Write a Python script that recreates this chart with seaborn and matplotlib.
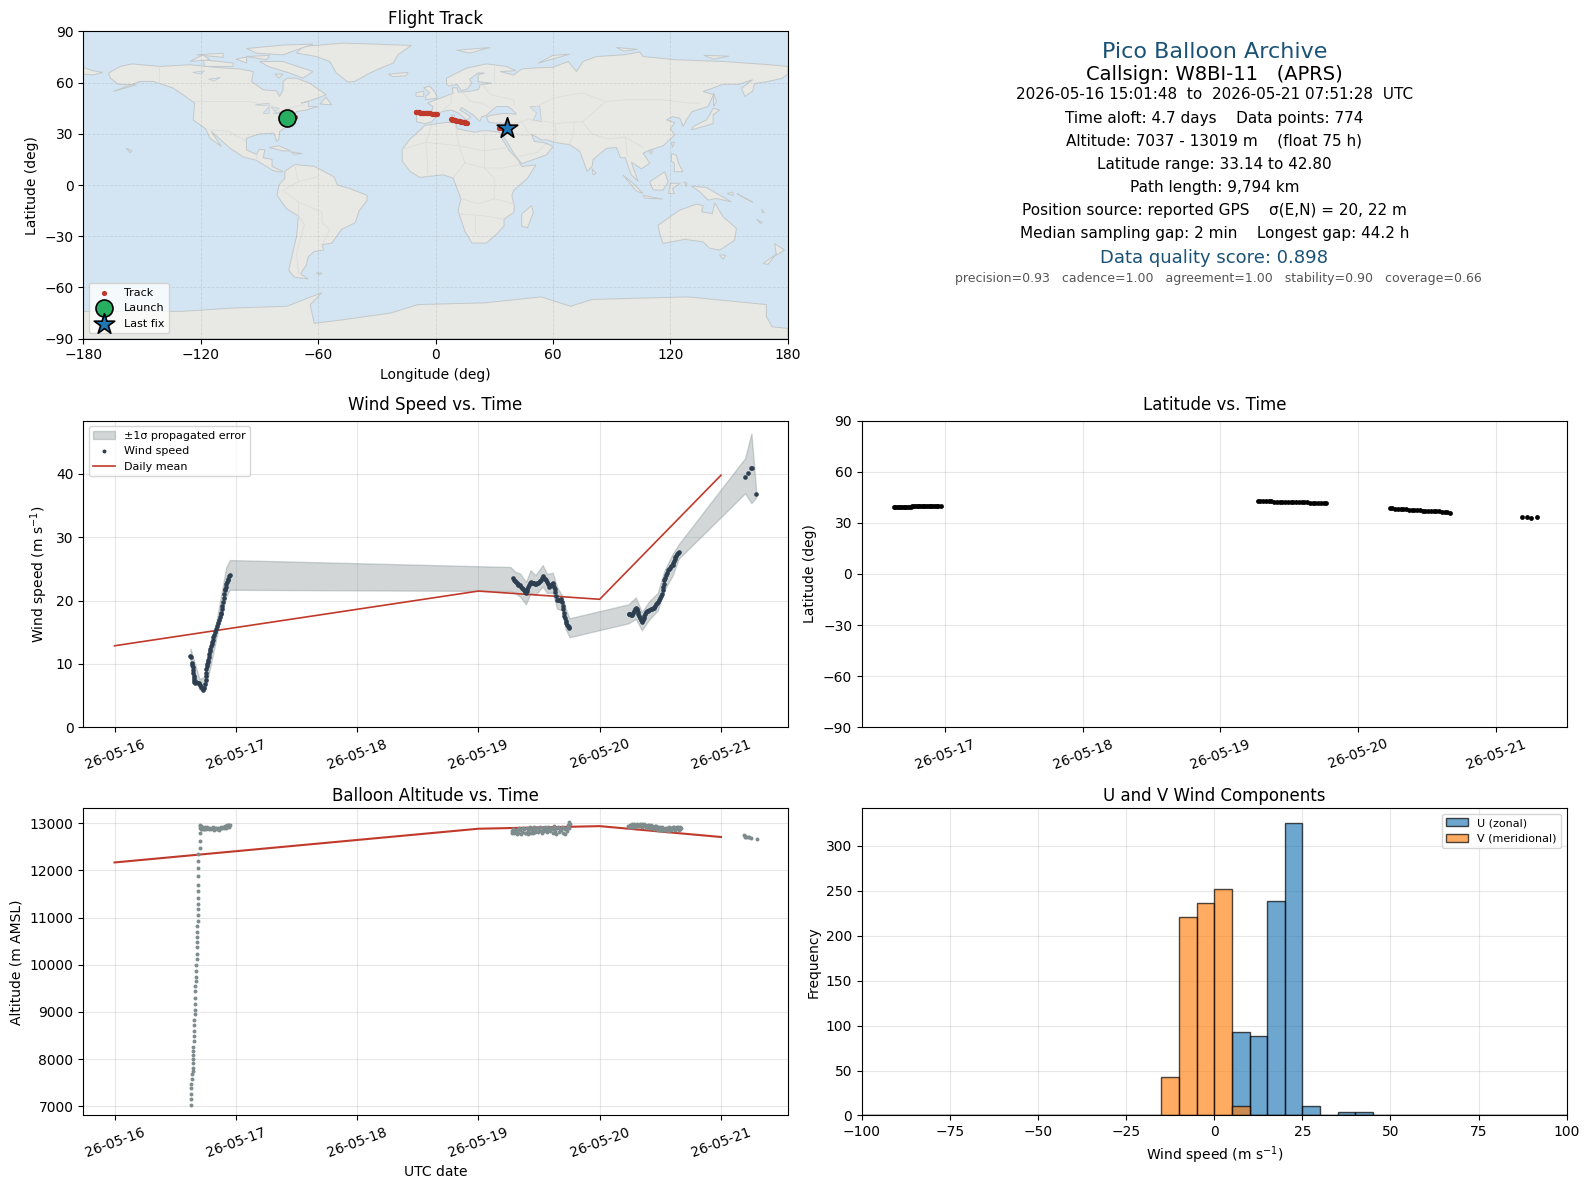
import numpy as np
import pandas as pd
import matplotlib
matplotlib.use('Agg')
import matplotlib.pyplot as plt
import matplotlib.dates as mdates
import seaborn as sns

# ======================
# DATA (days are decimal days of May 2026)
# ======================

wind_days = [16.626, 16.632, 16.637, 16.640, 16.643, 16.646, 16.648, 16.651, 16.653, 16.655, 16.657, 16.665, 16.675, 16.684,
             16.695, 16.705, 16.711, 16.72, 16.731, 16.74, 16.747, 16.750, 16.752, 16.755, 16.758, 16.761, 16.764, 16.767,
             16.77, 16.775, 16.78, 16.785, 16.79, 16.795, 16.80, 16.804, 16.808, 16.814, 16.82, 16.828, 16.835, 16.842,
             16.85, 16.859, 16.868, 16.874, 16.88, 16.885, 16.89, 16.895, 16.90, 16.905, 16.909, 16.914, 16.918, 16.922,
             16.926, 16.932, 16.938, 16.944, 16.95,
             19.282, 19.29, 19.30, 19.309, 19.318, 19.324, 19.33, 19.338, 19.345, 19.352, 19.36, 19.366, 19.373, 19.382, 19.392,
             19.397, 19.403, 19.408, 19.414, 19.425, 19.436, 19.445, 19.453, 19.462, 19.47, 19.478, 19.487, 19.495, 19.503,
             19.51, 19.517, 19.523, 19.53, 19.54, 19.548, 19.557, 19.566, 19.573, 19.58, 19.588, 19.597, 19.605, 19.613,
             19.619, 19.625, 19.63, 19.635, 19.642, 19.649, 19.658, 19.667, 19.676, 19.685, 19.69, 19.695, 19.70,
             19.704, 19.709, 19.714, 19.719, 19.724, 19.73, 19.737, 19.744, 19.751,
             20.238, 20.244, 20.25, 20.258, 20.265, 20.273, 20.282, 20.29, 20.298, 20.304, 20.31, 20.315, 20.32, 20.328, 20.335,
             20.342, 20.348, 20.355, 20.362, 20.369, 20.376, 20.384, 20.392, 20.40, 20.409, 20.42, 20.43, 20.44, 20.45, 20.458,
             20.465, 20.472, 20.478, 20.487, 20.495, 20.505, 20.514, 20.519, 20.523, 20.528, 20.533, 20.54, 20.547, 20.554,
             20.561, 20.57, 20.58, 20.59, 20.602, 20.608, 20.613, 20.619, 20.624, 20.631, 20.638, 20.645, 20.652,
             21.199, 21.224, 21.251, 21.26, 21.29]
wind_speed = [11.2, 11.0, 10.2, 9.8, 9.5, 9.0, 8.6, 8.1, 7.7, 7.4, 7.1, 7.0, 7.1, 6.95,
              7.0, 6.6, 6.3, 6.2, 5.9, 6.1, 6.8, 7.4, 8.0, 8.6, 9.2, 9.6, 10.0, 10.3,
              10.6, 11.1, 11.6, 12.0, 12.4, 12.8, 13.1, 13.4, 13.7, 14.2, 14.6, 15.1, 15.5, 16.0,
              16.4, 16.9, 17.4, 17.8, 18.1, 18.6, 19.2, 19.8, 20.4, 21.0, 21.6, 21.9, 22.2, 22.6,
              22.9, 23.2, 23.4, 23.8, 24.1,
              23.6, 23.3, 23.1, 22.9, 22.7, 22.6, 22.5, 22.45, 22.4, 22.2, 22.0, 21.8, 21.6, 21.4, 21.2,
              21.5, 21.8, 22.1, 22.4, 22.7, 22.9, 22.85, 22.8, 22.7, 22.6, 22.65, 22.7, 22.8, 22.9,
              23.1, 23.3, 23.5, 23.8, 23.6, 23.4, 23.2, 22.9, 22.6, 22.2, 22.3, 22.5, 22.65, 22.8,
              22.5, 22.1, 21.8, 21.4, 20.7, 20.05, 20.07, 20.1, 20.15, 20.2, 19.7, 19.2, 18.6,
              18.0, 17.6, 17.2, 16.8, 16.4, 16.2, 16.0, 15.8, 15.6,
              17.95, 17.85, 17.8, 17.75, 17.7, 18.0, 18.3, 18.6, 18.9, 18.7, 18.5, 18.2, 17.95, 17.6, 17.2,
              16.9, 16.6, 16.9, 17.2, 17.6, 17.95, 18.15, 18.3, 18.4, 18.5, 18.6, 18.7, 18.8, 18.9, 19.15,
              19.4, 19.6, 19.8, 20.1, 20.4, 20.75, 21.1, 21.6, 22.1, 22.6, 23.2, 23.6, 24.0, 24.4,
              24.8, 25.0, 25.2, 25.4, 25.6, 25.9, 26.2, 26.5, 26.9, 27.1, 27.3, 27.5, 27.6,
              39.5, 40.2, 40.95, 40.95, 36.85]

band_days = [16.626, 16.70, 16.75, 16.85, 16.92, 16.95, 19.265, 19.30, 19.345, 19.392, 19.43, 19.47, 19.53, 19.566,
             19.613, 19.649, 19.69, 19.72, 19.751, 20.238, 20.298, 20.348, 20.409, 20.478, 20.533, 20.602, 20.652,
             21.199, 21.251, 21.29]
band_low = [10.2, 5.9, 6.0, 15.0, 20.6, 21.7, 21.5, 21.2, 20.6, 19.4, 21.2, 20.9, 22.2, 21.2,
            21.2, 18.7, 18.5, 15.5, 14.2, 16.4, 17.1, 15.3, 17.0, 18.4, 21.6, 24.0, 26.6,
            36.95, 35.4, 36.3]
band_high = [12.4, 7.6, 8.0, 17.8, 25.2, 26.4, 25.3, 24.6, 24.25, 22.9, 24.8, 24.0, 25.6, 24.2,
             24.4, 22.1, 20.8, 18.7, 17.2, 19.4, 20.5, 18.2, 19.9, 21.2, 24.7, 27.4, 28.9,
             42.5, 46.4, 37.4]

mean_days = [16, 19, 20, 21]
wind_daily_mean = [12.85, 21.5, 20.2, 39.8]
alt_daily_mean = [12170, 12885, 12940, 12710]

ascent_days = [16.628, 16.631, 16.634, 16.634, 16.634, 16.637, 16.637, 16.644, 16.644, 16.644, 16.644, 16.647, 16.650, 16.650,
               16.653, 16.653, 16.653, 16.657, 16.657, 16.663, 16.663, 16.663, 16.663, 16.663, 16.666, 16.669, 16.669, 16.669,
               16.669, 16.676, 16.676, 16.679, 16.679, 16.679, 16.679, 16.679, 16.685, 16.685, 16.685, 16.685, 16.685, 16.692,
               16.692, 16.692, 16.692, 16.692, 16.692, 16.701, 16.701, 16.701, 16.701]
ascent_alt = [7037, 7165, 7271, 7378, 7463, 7576, 7675, 7746, 7817, 7909, 7994, 8087, 8172, 8264,
              8384, 8491, 8597, 8725, 8831, 8952, 9044, 9171, 9292, 9434, 9540, 9646, 9739, 9859,
              9987, 10121, 10235, 10370, 10483, 10582, 10689, 10816, 10937, 11064, 11192, 11298, 11419, 11575,
              11702, 11873, 12043, 12199, 12355, 12482, 12624, 12801, 12943]

float1_days = [16.705, 16.708, 16.712, 16.716, 16.72, 16.725, 16.73, 16.735, 16.74, 16.748, 16.755, 16.763, 16.772, 16.78, 16.788,
               16.796, 16.804, 16.812, 16.82, 16.828, 16.836, 16.843, 16.85, 16.856, 16.862, 16.868, 16.875, 16.88, 16.884, 16.892,
               16.90, 16.908, 16.917, 16.921, 16.925, 16.929, 16.933, 16.937, 16.94, 16.945, 16.949]
float1_alt = [12960, 12900, 12940, 12880, 12920, 12870, 12910, 12885, 12887, 12925, 12880, 12915, 12900, 12870, 12910,
              12885, 12890, 12915, 12860, 12905, 12895, 12870, 12880, 12910, 12860, 12900, 12890, 12915, 12890, 12925,
              12900, 12935, 12905, 12945, 12925, 12955, 12940, 12965, 12930, 12970, 12955]
float2_days = [19.276, 19.28, 19.287, 19.295, 19.302, 19.31, 19.318, 19.325, 19.33, 19.337, 19.345, 19.352, 19.36, 19.367, 19.375, 19.382,
               19.39, 19.397, 19.405, 19.412, 19.42, 19.425, 19.43, 19.437, 19.445, 19.452, 19.46, 19.465, 19.47, 19.477, 19.485, 19.492,
               19.50, 19.507, 19.515, 19.522, 19.53, 19.537, 19.545, 19.552, 19.56, 19.567, 19.575, 19.582, 19.59, 19.597, 19.605, 19.612,
               19.62, 19.627, 19.635, 19.642, 19.65, 19.657, 19.665, 19.672, 19.68, 19.687, 19.695, 19.702, 19.71, 19.717, 19.725, 19.732,
               19.74, 19.745, 19.75, 19.758]
float2_alt = [12785, 12830, 12870, 12800, 12860, 12840, 12780, 12880, 12800, 12890, 12850, 12780, 12810, 12900, 12870, 12790,
              12790, 12890, 12840, 12770, 12880, 12920, 12800, 12890, 12850, 12790, 12930, 12880, 12820, 12910, 12900, 12810,
              12860, 12930, 12830, 12790, 12910, 12850, 12840, 12920, 12880, 12810, 12920, 12850, 12830, 12910, 12870, 12800,
              12900, 12950, 12840, 12780, 12890, 12930, 12810, 12870, 12860, 12920, 12800, 12890, 12870, 12770, 12910, 12840,
              12960, 12900, 13019, 12990]
float3_days = [20.233, 20.24, 20.25, 20.255, 20.265, 20.27, 20.28, 20.285, 20.30, 20.305, 20.315, 20.32, 20.33, 20.335, 20.345, 20.35,
               20.36, 20.365, 20.375, 20.38, 20.39, 20.395, 20.405, 20.41, 20.42, 20.425, 20.435, 20.44, 20.45, 20.455, 20.465, 20.47,
               20.48, 20.485, 20.495, 20.50, 20.51, 20.515, 20.525, 20.53, 20.54, 20.545, 20.555, 20.56, 20.57, 20.575, 20.585, 20.59,
               20.60, 20.605, 20.615, 20.62, 20.63, 20.635, 20.645, 20.65, 20.66, 20.665, 20.672]
float3_alt = [12950, 12925, 12965, 12920, 12930, 12975, 12975, 12930, 12940, 12985, 12970, 12935, 12935, 12980, 12975, 12925,
              12945, 12985, 12965, 12925, 12930, 12970, 12960, 12910, 12900, 12955, 12950, 12890, 12880, 12940, 12940, 12875,
              12860, 12925, 12920, 12855, 12860, 12915, 12905, 12850, 12850, 12905, 12900, 12845, 12860, 12915, 12910, 12855,
              12870, 12925, 12920, 12865, 12880, 12925, 12915, 12865, 12880, 12920, 12895]
float4_days = [21.19, 21.195, 21.20, 21.21, 21.22, 21.235, 21.25, 21.30]
float4_alt = [12745, 12715, 12730, 12710, 12705, 12705, 12695, 12675]

track_days = [16.626, 16.638, 16.65, 16.663, 16.675, 16.688, 16.70, 16.712, 16.725, 16.738, 16.75, 16.763, 16.775, 16.788, 16.80,
              16.812, 16.825, 16.838, 16.85, 16.863, 16.875, 16.888, 16.90, 16.912, 16.925, 16.938, 16.95, 16.97,
              19.27, 19.29, 19.31, 19.33, 19.35, 19.37, 19.39, 19.41, 19.43, 19.45, 19.47, 19.49, 19.51, 19.53, 19.55,
              19.57, 19.59, 19.61, 19.63, 19.65, 19.67, 19.69, 19.71, 19.73, 19.75, 19.77,
              20.23, 20.25, 20.27, 20.29, 20.31, 20.33, 20.35, 20.37, 20.39, 20.41, 20.43, 20.45, 20.47, 20.49, 20.51,
              20.53, 20.55, 20.57, 20.59, 20.61, 20.63, 20.65, 20.67,
              21.19, 21.225, 21.26, 21.30]
track_lat = [39.5, 39.5, 39.5, 39.5, 39.5, 39.6, 39.6, 39.6, 39.6, 39.6, 39.6, 39.8, 39.9, 40.0, 40.0,
             40.1, 40.1, 40.1, 40.1, 40.1, 40.1, 40.1, 40.1, 40.1, 40.1, 40.0, 40.0, 40.0,
             42.8, 42.8, 42.7, 42.7, 42.6, 42.6, 42.5, 42.5, 42.5, 42.5, 42.4, 42.4, 42.4, 42.3, 42.3,
             42.3, 42.2, 42.2, 42.1, 41.9, 41.8, 41.8, 41.7, 41.7, 41.6, 41.6,
             38.7, 38.5, 38.4, 38.3, 38.2, 38.1, 38.0, 37.8, 37.7, 37.6, 37.5, 37.4, 37.3, 37.2, 37.1,
             37.1, 37.0, 36.9, 36.8, 36.7, 36.6, 36.3, 36.1,
             33.3, 33.2, 33.14, 33.2]
track_lon = [-75.5, -75.4, -75.3, -75.2, -75.0, -74.9, -74.8, -74.7, -74.5, -74.4, -74.2, -74.1, -74.0, -73.8, -73.7,
             -73.6, -73.5, -73.3, -73.2, -73.1, -73.0, -72.8, -72.7, -72.5, -72.4, -72.3, -72.2, -72.0,
             -10.2, -9.8, -9.4, -9.0, -8.6, -8.2, -7.8, -7.4, -7.0, -6.6, -6.2, -5.8, -5.4, -5.0, -4.6,
             -4.1, -3.6, -3.1, -2.6, -2.0, -1.4, -0.9, -0.4, 0.0, 0.3, 0.6,
             7.8, 8.2, 8.6, 9.0, 9.4, 9.8, 10.2, 10.6, 11.0, 11.4, 11.8, 12.2, 12.5, 12.9, 13.2,
             13.6, 13.9, 14.3, 14.6, 14.9, 15.2, 15.7, 16.2,
             32.5, 33.5, 34.5, 35.5]
launch_lon, launch_lat = -75.9, 39.0
last_lon, last_lat = 36.4, 33.2

hist_edges = list(range(-100, 105, 5))
u_bins = [5, 10, 15, 20, 25, 35, 40]
u_counts = [93, 88, 239, 325, 11, 4, 4]
v_bins = [-15, -10, -5, 0, 5]
v_counts = [43, 221, 237, 252, 10]

# land outlines, lon/lat
north_america = [(-167, 65.6), (-161, 69.5), (-155, 71), (-141, 69.5), (-125.5, 70.5), (-112, 68.9), (-100, 68), (-93, 66.5),
                 (-94, 60.7), (-88, 55.8), (-81.3, 55.2), (-79.6, 51.9), (-77.9, 55.8), (-77.9, 60.7), (-75.8, 62.6), (-71, 62.6),
                 (-64.3, 59.7), (-55.8, 52.9), (-62.6, 50), (-68.5, 48), (-65, 49), (-65, 46), (-60, 46), (-66, 44), (-71, 43),
                 (-72.8, 39), (-76, 34.3), (-79.6, 31.4), (-80, 27), (-81, 25.5), (-82.6, 30.4), (-89.8, 30), (-96.6, 27.5),
                 (-96.6, 20.6), (-91.5, 18), (-90, 21), (-87.2, 20.6), (-88, 16), (-83.5, 15), (-83.5, 11), (-80, 9), (-77.9, 8),
                 (-79, 7.5), (-83, 8.5), (-91.5, 14.5), (-98.3, 16.5), (-105, 21.6), (-114.5, 31.4), (-109.4, 22.6), (-115.3, 27.5),
                 (-117.5, 33), (-123.8, 38.2), (-123, 48), (-129, 52.9), (-134, 56.8), (-144, 60.7), (-151, 60.7), (-164.7, 54.8),
                 (-152.8, 58.7), (-162, 59), (-166, 62.6)]
south_america = [(-77, 8), (-72, 12), (-62, 11), (-52, 5), (-50, 0), (-44, -2), (-35, -6), (-35, -9), (-39, -15), (-41, -22),
                 (-48, -26), (-53, -34), (-58, -35), (-57, -38), (-62, -39), (-65, -42), (-66, -47), (-69, -52), (-65, -55),
                 (-72, -54), (-75, -50), (-73, -40), (-71, -30), (-70, -18), (-76, -14), (-81, -6), (-80, 0), (-77, 4)]
africa = [(-5.4, 35), (4, 36.5), (10, 37), (11, 33), (15, 32), (20, 31), (25, 32), (32.9, 31), (33.5, 28), (38, 19.7), (42.2, 14.8),
          (44, 10.9), (51.3, 11.8), (47, 4), (40, -3), (39, -6), (40.3, -12.7), (40, -16), (35, -20), (35, -24), (31, -29),
          (26, -34), (18.6, -34), (15, -27), (11.5, -15), (13, -8), (11, -2), (9, 4), (4, 6), (-4, 5), (-8, 4.5), (-13, 8),
          (-17, 14), (-17, 21), (-13, 27), (-9, 31)]
eurasia = [(-9.7, 37), (-9.7, 43.1), (-2, 43.3), (-1.2, 46), (-4, 48), (-1, 49.5), (3.9, 51.5), (9, 53.9), (8.5, 57), (11, 57),
           (11.6, 54.5), (16.7, 54.8), (22, 56), (22.7, 58.7), (28.6, 59.7), (21.8, 60.5), (21.8, 64.6), (25, 65.6), (22, 65.8),
           (17.5, 62), (18.5, 59.5), (16, 56), (13, 55.5), (11, 59), (7, 58), (5.6, 59), (5.6, 62.6), (15.8, 68.5), (26, 71),
           (36.3, 69.5), (41, 67), (33, 66.5), (40, 64.5), (44, 68), (51.6, 68.7), (60, 69), (67.8, 72.4), (72, 66.5), (75.4, 72.4),
           (82.2, 75.3), (95.8, 76.3), (104.3, 77.9), (106, 75.3), (123, 73.4), (147, 72.4), (170.7, 70.5), (180, 69.5), (180, 65),
           (177, 62.5), (169, 60.5), (163, 59.5), (162, 55), (158, 51.9), (156.3, 56.8), (162, 61.7), (155, 59), (146.9, 59),
           (136.7, 54.8), (142, 53), (139.2, 46), (131, 43), (128.2, 38.2), (126.5, 34.3), (124.8, 39.2), (121, 40), (118, 38.2),
           (122.2, 36.5), (120, 33), (122.2, 29.4), (116.3, 23), (109.5, 20.6), (106, 18.7), (109.5, 12.8), (105.2, 9.5), (100, 13.5),
           (103.5, 2.1), (100, 6), (98.4, 10.9), (97, 16), (94.5, 16), (92.4, 22), (87.3, 21.5), (80.5, 15), (80, 11), (77.5, 8),
           (73.7, 19.7), (72, 21), (68.6, 23.6), (61, 25), (57, 26.5), (54, 26.5), (49, 29.8), (50.5, 25.5), (55, 25), (57.5, 24),
           (60, 22.6), (56.7, 17.7), (44, 12.5), (40.5, 17.7), (34.8, 28.4), (35, 33), (36, 36.3), (30, 36.3), (27, 37), (26, 40),
           (29, 41), (35, 42), (41.4, 41.5), (38.8, 44.5), (37, 46), (31.2, 46), (28, 43), (26, 40.8), (23.5, 40), (22.7, 37.2),
           (19.3, 41), (13.3, 45.5), (12.5, 44), (18, 40), (16, 38), (12, 42), (8, 44), (3, 43), (0, 39.5), (-2, 37), (-5.4, 36)]
antarctica = [(-180, -74), (-130, -74), (-103, -72), (-76, -71), (-58, -63), (-64, -70), (-62, -81), (-48, -79), (-23, -75),
              (-9, -70), (25, -69), (54, -65.5), (69, -71), (80, -67), (129, -65.5), (169, -70), (169, -77), (172, -83),
              (180, -84), (180, -90), (-180, -90)]
chukotka = [(-180, 69), (-175, 67), (-170, 66), (-175, 64.5), (-180, 65)]
greenland = [(-71, 77.3), (-67.7, 81.2), (-47, 83.2), (-12.4, 81.8), (-19.2, 76.3), (-21.7, 71.4), (-26, 69.5), (-33.6, 65.6),
             (-41.3, 60.7), (-44.7, 60.3), (-50.6, 65.6), (-54, 72.4), (-60.9, 75.3)]
australia = [(113.7, -23.5), (124.7, -14.7), (133.2, -11.2), (136.7, -12), (136, -15.7), (141.4, -16.7), (142.6, -10.4), (146.9, -18.6),
             (153.7, -25.4), (152.8, -32.3), (145.2, -38.1), (140, -37), (136.7, -33.3), (127.3, -31.8), (116.2, -34.2), (114.5, -28.4)]
islands = [
    [(-89.8, 72.4), (-78, 72.4), (-62.6, 66.5), (-67.7, 62.6), (-74.5, 65.6), (-85.5, 69.5)],
    [(-118.7, 73.4), (-103.4, 71.5), (-103.4, 69.5), (-118, 69.5)],
    [(-96.6, 80), (-78, 82), (-62.6, 82.6), (-78, 76.3), (-91.5, 77.3)],
    [(-125.5, 72.4), (-118.7, 76.3), (-115.3, 73.4)],
    [(-96.6, 75.3), (-84.7, 76), (-86.4, 73.4)],
    [(-122, 76.3), (-108.5, 77.3), (-108.5, 74.8)],
    [(-102, 73.8), (-96.5, 75), (-96.5, 71.5)],
    [(-82, 65), (-78, 65), (-80, 62.5)],
    [(-59, 47.5), (-53, 47), (-56, 51.5)],
    [(-85, 22), (-80, 23), (-74, 20), (-78, 20)],
    [(-74, 19.5), (-68, 18.5), (-72, 18)],
    [(-158, 21.5), (-155, 20), (-156, 19)],
    [(-24, 65), (-14, 66), (-15, 64), (-22, 63.5)],
    [(-5, 50), (1, 51), (0, 54), (-3, 58), (-6, 57), (-3, 54), (-5, 52)],
    [(-10, 52), (-6, 52), (-6, 55), (-10, 54)],
    [(10.7, 79), (27.8, 80.6), (17.5, 77.3)],
    [(52.4, 71.4), (60, 76), (68.6, 76.7), (58.4, 73.4)],
    [(92.4, 80.6), (103, 79.5), (96, 78.5)],
    [(137, 76), (150, 75.5), (142, 73.8)],
    [(12.5, 38), (15.5, 38), (15, 36.7)],
    [(8.3, 41), (9.7, 41), (9.5, 39), (8.5, 39)],
    [(49, -12), (50, -16), (47, -25), (44, -24), (44, -17)],
    [(80, 9.5), (82, 7), (80.5, 6)],
    [(130.7, 32.4), (136, 34), (141.8, 36), (141.8, 41.2), (145.2, 44), (141.8, 45), (140, 41), (138.4, 38.2), (131.6, 34.3)],
    [(142, 54), (143.5, 49), (142, 46)],
    [(120.5, 25), (122, 25), (121, 22)],
    [(109, 20), (111, 20), (110, 18)],
    [(120.5, 18.5), (123, 17.5), (124, 13), (126.4, 7.8), (122, 7.8), (122, 12.7), (120.5, 14)],
    [(95.8, 5.8), (100.9, 1), (106, -4.9), (102.6, -3.5)],
    [(109.4, 1.9), (117.1, 7.8), (118.8, 1.9), (116.2, -3), (111.1, -2.8)],
    [(106, -6), (116, -8.2), (107, -7.6)],
    [(120, 1), (125, 1), (121, -2), (122, -5), (119, -5)],
    [(127, 2), (128.5, 1), (128, -1)],
    [(130.7, -0.6), (138.3, -1.4), (151.1, -9.8), (143.5, -7.9), (139.2, -8.8), (135, -4)],
    [(149, -5), (152, -4), (152, -6)],
    [(154, -5), (157, -7), (162, -10), (158, -7.5)],
    [(166.5, -14), (168, -16), (167, -16)],
    [(164, -20), (167, -22), (166, -22.5)],
    [(145, -41), (148.2, -41), (147, -43.5)],
    [(173.2, -34.2), (178.3, -38.1), (174.1, -41)],
    [(174, -40.5), (167.3, -46), (169.8, -46.5)],
    [(-61, -51.5), (-58, -51.5), (-59, -52.5)],
]
lakes = [
    [(48.2, 46), (53.3, 46), (54.1, 37.2), (49.9, 38.2), (51.6, 42.1)],
    [(-92, 47), (-85, 48), (-85, 46.5)],
    [(-88, 42), (-85, 46), (-85, 42)],
    [(-84, 46), (-80, 45), (-82, 43)],
    [(-83, 42), (-79, 43), (-80, 42)],
    [(-124, 66), (-118, 67), (-120, 65)],
    [(-116, 62), (-110, 63), (-113, 61)],
]
borders = [
    [(-141, 69.5), (-141, 60)],
    [(-123, 49), (-95, 49), (-83, 46), (-79, 43), (-75, 45), (-67, 47)],
    [(-117, 32.5), (-106, 31.5), (-97, 26)],
    [(-92, 14), (-91, 18)],
    [(-72, 12), (-70, 2), (-78, -3), (-70, -10), (-70, -18)],
    [(-60, 5), (-70, 2)],
    [(-70, -10), (-58, -16), (-58, -22), (-54, -26), (-58, -35)],
    [(-70, -18), (-67, -23), (-71, -40), (-70, -52)],
    [(-17, 21), (-5, 25), (12, 23), (25, 20), (37, 22)],
    [(-2, 35), (-5, 25), (-4, 12), (-4, 5)],
    [(10, 37), (12, 23), (15, 13), (9, 4)],
    [(25, 32), (25, 10), (30, 4), (30, -8), (40, -11)],
    [(15, 13), (25, 10), (34, 10), (43, 12)],
    [(13, -8), (22, -11), (30, -8)],
    [(12, -17), (25, -18), (35, -20)],
    [(20, -28), (20, -18)],
    [(-2, 43), (3, 43), (8, 48), (8, 54)],
    [(14, 54), (18, 49), (24, 48), (28, 45)],
    [(24, 59), (28, 53), (40, 50), (40, 47)],
    [(30, 60), (30, 69)],
    [(50, 45), (60, 51), (75, 54), (87, 49), (98, 50), (115, 50), (130, 48), (135, 48)],
    [(53, 38), (61, 36), (71, 37), (75, 37), (80, 42), (87, 49)],
    [(36, 36), (44, 37), (48, 30)],
    [(44, 37), (48, 39), (50, 37)],
    [(61, 36), (61, 25)],
    [(71, 37), (70, 28), (68, 24)],
    [(75, 37), (80, 30), (88, 27), (97, 28), (98, 17)],
    [(97, 28), (106, 22)],
    [(36, 32), (44, 29), (48, 29)],
    [(43, 17), (52, 19), (56, 24)],
]

info_lines = [
    ('Pico Balloon Archive', 51, 16, '#1a5276', 0),
    ('Callsign: W8BI-11   (APRS)', 73, 14, 'black', 0),
    ('2026-05-16 15:01:48  to  2026-05-21 07:51:28  UTC', 93.5, 11, 'black', 0),
    ('Time aloft: 4.7 days    Data points: 774', 117, 11, 'black', 0),
    ('Altitude: 7037 - 13019 m    (float 75 h)', 139.5, 11, 'black', 0),
    ('Latitude range: 33.14 to 42.80', 162, 11, 'black', 0),
    ('Path length: 9,794 km', 185, 11, 'black', 0),
    ('Position source: reported GPS    σ(E,N) = 20, 22 m', 207.5, 11, 'black', 0),
    ('Median sampling gap: 2 min    Longest gap: 44.2 h', 230.5, 11, 'black', 0),
    ('Data quality score: 0.898', 254.5, 13, '#1a5276', 0),
    ('precision=0.93   cadence=1.00   agreement=1.00   stability=0.90   coverage=0.66', 274.5, 9, '#555555', 4),
]

# =====================
# HELPERS
# =====================

FIG_W, FIG_H = 1568.0, 1172.5
RED = '#c0392b'
DARK = '#2c3e50'
GREY = '#7f8c8d'
OCEAN = '#d3e5f2'
LAND = '#e8e8e4'


def to_dates(days):
    return pd.Timestamp('2026-05-01') + pd.to_timedelta(np.asarray(days, dtype=float) - 1, unit='D')


def make_axes(fig, left, right, top, bottom):
    """Axes from picture pixel edges"""
    return fig.add_axes([left / FIG_W, 1 - bottom / FIG_H, (right - left) / FIG_W, (bottom - top) / FIG_H])


def date_axis(ax, xlim):
    ax.set_xlim(to_dates([xlim[0]])[0], to_dates([xlim[1]])[0])
    ax.xaxis.set_major_locator(mdates.DayLocator())
    ax.xaxis.set_major_formatter(mdates.DateFormatter('%y-%m-%d'))
    ax.tick_params(axis='x', labelrotation=20)
    ax.grid(True, alpha=0.3)
    ax.set_axisbelow(True)
    ax.set_xlabel('')


# =====================
# PLOTTING
# =====================

fig = plt.figure(figsize=(15.9, 11.89), dpi=100)

# flight track map
ax = make_axes(fig, 82, 777, 31, 334)
ax.set_facecolor(OCEAN)
outlines = [north_america, south_america, africa, eurasia, antarctica, chukotka, greenland, australia] + islands
for poly in outlines:
    xs, ys = zip(*poly)
    ax.fill(xs, ys, facecolor=LAND, edgecolor='#c3c8ca', linewidth=0.7, zorder=1)
for poly in lakes:
    xs, ys = zip(*poly)
    ax.fill(xs, ys, facecolor=OCEAN, edgecolor='#c3c8ca', linewidth=0.5, zorder=1.1)
for line in borders:
    xs, ys = zip(*line)
    ax.plot(xs, ys, color='#dcdedc', linewidth=0.6, zorder=1.2)
sns.scatterplot(x=track_lon, y=track_lat, ax=ax, s=14, color=RED, linewidth=0, label='Track', zorder=3)
ax.scatter([launch_lon], [launch_lat], s=150, color='#27ae60', edgecolor='black', linewidth=1.2, label='Launch', zorder=4)
ax.scatter([last_lon], [last_lat], s=240, marker='*', color='#1f77b4', edgecolor='black', linewidth=1.2, label='Last fix', zorder=4)
ax.set_xlim(-180, 180)
ax.set_ylim(-90, 90)
ax.set_xticks(range(-180, 181, 60))
ax.set_yticks(range(-90, 91, 30))
ax.grid(True, color='gray', alpha=0.2, linewidth=0.6, linestyle='--', zorder=2)
ax.set_xlabel('Longitude (deg)')
ax.set_ylabel('Latitude (deg)')
ax.set_title('Flight Track', fontsize=12, pad=5)
ax.legend(loc='lower left', fontsize=8)

# text panel
ax = make_axes(fig, 850, 1545, 31, 334)
ax.axis('off')
for text, ypos, size, color, shift in info_lines:
    ax.text(0.5 + shift / 695.0, 1 - (ypos - 31) / 303.0, text, transform=ax.transAxes, ha='center', va='center',
            fontsize=size, color=color)

# wind speed
ax = make_axes(fig, 82, 777, 415, 717)
ax.fill_between(to_dates(band_days), band_low, band_high, color=GREY, alpha=0.35, label='±1σ propagated error')
sns.scatterplot(x=to_dates(wind_days), y=wind_speed, ax=ax, s=11, color=DARK, linewidth=0, label='Wind speed', zorder=3)
sns.lineplot(x=to_dates(mean_days), y=wind_daily_mean, ax=ax, color=RED, linewidth=1.2, label='Daily mean', errorbar=None, zorder=2)
date_axis(ax, (15.741, 21.552))
ax.set_ylim(0, 48.4)
ax.set_ylabel('Wind speed (m s$^{-1}$)')
ax.set_title('Wind Speed vs. Time', fontsize=12, pad=7.5)
ax.legend(loc='upper left', fontsize=8, markerscale=0.85)

# latitude
ax = make_axes(fig, 850, 1545, 415, 717)
sns.scatterplot(x=to_dates(track_days), y=track_lat, ax=ax, s=12, color='black', linewidth=0, zorder=3)
date_axis(ax, (16.396, 21.516))
ax.set_ylim(-90, 90)
ax.set_yticks(range(-90, 91, 30))
ax.set_ylabel('Latitude (deg)')
ax.set_title('Latitude vs. Time', fontsize=12, pad=7.5)

# altitude
ax = make_axes(fig, 82, 777, 797, 1100)
alt_days = ascent_days + float1_days + float2_days + float3_days + float4_days
altitude = ascent_alt + float1_alt + float2_alt + float3_alt + float4_alt
sns.scatterplot(x=to_dates(alt_days), y=altitude, ax=ax, s=8, color=GREY, linewidth=0, zorder=3)
sns.lineplot(x=to_dates(mean_days), y=alt_daily_mean, ax=ax, color=RED, linewidth=1.5, errorbar=None, zorder=2)
date_axis(ax, (15.741, 21.552))
ax.set_ylim(6805, 13320)
ax.set_xlabel('UTC date')
ax.set_ylabel('Altitude (m AMSL)')
ax.set_title('Balloon Altitude vs. Time', fontsize=12, pad=5)

# wind component histogram
ax = make_axes(fig, 850, 1545, 797, 1100)
sns.histplot(x=np.array(u_bins) + 2.5, weights=u_counts, bins=hist_edges, ax=ax, color='#1f77b4', alpha=0.65,
             edgecolor=(0, 0, 0, 0.7), linewidth=1, label='U (zonal)')
sns.histplot(x=np.array(v_bins) + 2.5, weights=v_counts, bins=hist_edges, ax=ax, color='#ff7f0e', alpha=0.65,
             edgecolor=(0, 0, 0, 0.7), linewidth=1, label='V (meridional)')
ax.set_xlim(-100, 100)
ax.set_ylim(0, 342)
ax.grid(True, alpha=0.3)
ax.set_axisbelow(True)
ax.set_xlabel('Wind speed (m s$^{-1}$)')
ax.set_ylabel('Frequency')
ax.set_title('U and V Wind Components', fontsize=12, pad=5)
ax.legend(loc='upper right', fontsize=8)

fig.savefig('out.png', dpi=100)
